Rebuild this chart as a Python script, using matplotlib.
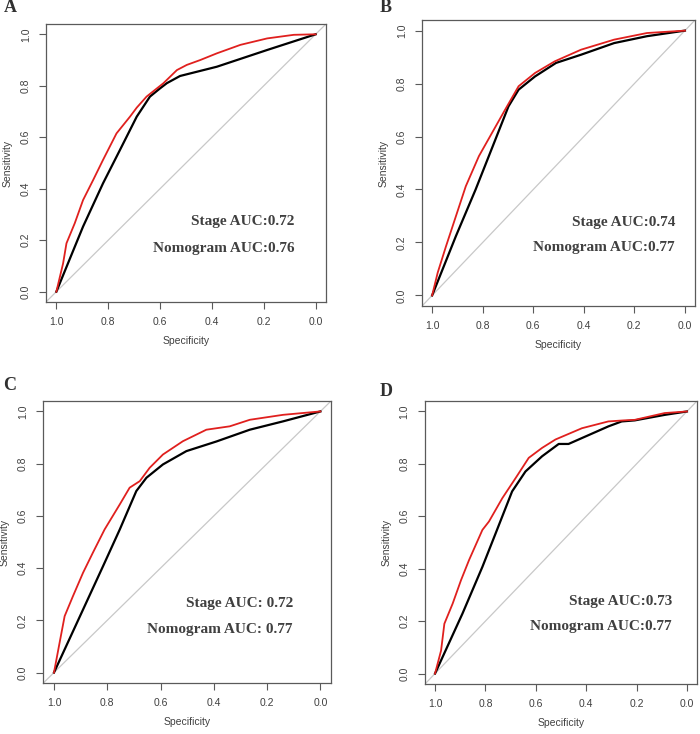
import matplotlib.pyplot as plt

# Panel A
a_nomo_spec = [1.0, 0.974, 0.961, 0.929, 0.897, 0.858, 0.820, 0.768, 0.716, 0.690, 0.652, 0.587, 0.535, 0.497,
               0.445, 0.381, 0.290, 0.187, 0.084, 0.0]
a_nomo_sens = [0.0, 0.110, 0.188, 0.266, 0.356, 0.434, 0.512, 0.615, 0.680, 0.715, 0.758, 0.810, 0.861, 0.881,
               0.900, 0.926, 0.959, 0.984, 0.998, 1.0]
a_stage_spec = [1.0, 0.897, 0.820, 0.755, 0.690, 0.639, 0.600, 0.574, 0.523, 0.381, 0.187, 0.0]
a_stage_sens = [0.0, 0.253, 0.421, 0.550, 0.680, 0.758, 0.790, 0.810, 0.838, 0.874, 0.939, 1.0]

# Panel B
b_nomo_spec = [1.0, 0.978, 0.945, 0.906, 0.867, 0.815, 0.763, 0.711, 0.658, 0.593, 0.515, 0.411, 0.280, 0.150, 0.0]
b_nomo_sens = [0.0, 0.086, 0.186, 0.299, 0.412, 0.526, 0.614, 0.702, 0.790, 0.840, 0.884, 0.928, 0.966, 0.991, 1.0]
b_stage_spec = [1.0, 0.906, 0.828, 0.760, 0.698, 0.658, 0.593, 0.510, 0.411, 0.280, 0.150, 0.0]
b_stage_sens = [0.0, 0.224, 0.400, 0.564, 0.714, 0.777, 0.827, 0.878, 0.909, 0.953, 0.979, 1.0]

# Panel C
c_nomo_spec = [1.0, 0.979, 0.960, 0.929, 0.891, 0.854, 0.810, 0.791, 0.753, 0.716, 0.678, 0.641, 0.591, 0.516,
               0.428, 0.340, 0.265, 0.140, 0.0]
c_nomo_sens = [0.0, 0.114, 0.216, 0.292, 0.382, 0.459, 0.548, 0.580, 0.644, 0.708, 0.733, 0.784, 0.835, 0.886,
               0.930, 0.943, 0.968, 0.987, 1.0]
c_stage_spec = [1.0, 0.891, 0.816, 0.753, 0.691, 0.653, 0.591, 0.503, 0.390, 0.265, 0.140, 0.0]
c_stage_sens = [0.0, 0.241, 0.407, 0.548, 0.695, 0.746, 0.797, 0.848, 0.885, 0.930, 0.962, 1.0]

# Panel D
d_nomo_spec = [1.0, 0.976, 0.963, 0.930, 0.897, 0.865, 0.812, 0.786, 0.733, 0.680, 0.628, 0.575, 0.522, 0.417,
               0.312, 0.250, 0.207, 0.088, 0.0]
d_nomo_sens = [0.0, 0.088, 0.190, 0.267, 0.356, 0.433, 0.548, 0.580, 0.669, 0.746, 0.823, 0.861, 0.893, 0.936,
               0.962, 0.966, 0.968, 0.994, 1.0]
d_stage_spec = [1.0, 0.891, 0.812, 0.759, 0.694, 0.641, 0.575, 0.509, 0.470, 0.312, 0.259, 0.207, 0.088, 0.0]
d_stage_sens = [0.0, 0.229, 0.407, 0.536, 0.695, 0.771, 0.829, 0.876, 0.876, 0.943, 0.962, 0.966, 0.987, 1.0]

panel_labels = ["A", "B", "C", "D"]
stage_text = ["Stage AUC:0.72", "Stage AUC:0.74", "Stage AUC: 0.72", "Stage AUC:0.73"]
nomo_text = ["Nomogram AUC:0.76", "Nomogram AUC:0.77", "Nomogram AUC: 0.77", "Nomogram AUC:0.77"]

panels = [
    (a_nomo_spec, a_nomo_sens, a_stage_spec, a_stage_sens),
    (b_nomo_spec, b_nomo_sens, b_stage_spec, b_stage_sens),
    (c_nomo_spec, c_nomo_sens, c_stage_spec, c_stage_sens),
    (d_nomo_spec, d_nomo_sens, d_stage_spec, d_stage_sens),
]

rects = [
    [0.0657, 0.5886, 0.400, 0.3787],
    [0.6029, 0.5831, 0.390, 0.3896],
    [0.0619, 0.0695, 0.411, 0.3842],
    [0.6071, 0.0681, 0.3886, 0.3856],
]
label_pos = [(10, 8), (386, 8), (10, 385), (386, 392)]
text_right = [0.081, 0.039, 0.103, 0.059]
text_y = [(0.272, 0.168), (0.277, 0.180), (0.263, 0.166), (0.275, 0.179)]

W, H = 700, 734
fig = plt.figure(figsize=(W / 100, H / 100), dpi=100)
serif = ["Liberation Serif", "DejaVu Serif"]
sans = ["Liberation Sans", "DejaVu Sans"]
axis_col = "#5a5a5a"
text_col = "#404040"

for i, (ns, nv, ss, sv) in enumerate(panels):
    ax = fig.add_axes(rects[i])
    ax.axline((0, 1), (1, 0), color="#c8c8c8", lw=0.9, zorder=1)
    ax.plot(ss, sv, color="black", lw=1.6, zorder=2)
    ax.plot(ns, nv, color="#e0201e", lw=1.3, zorder=3)
    ax.set_xlim(1.04, -0.04)
    ax.set_ylim(-0.04, 1.04)
    ticks = [0.0, 0.2, 0.4, 0.6, 0.8, 1.0]
    ax.set_xticks(ticks)
    ax.set_yticks(ticks)
    ax.set_xticklabels([f"{t:.1f}" for t in ticks], family=sans, fontsize=7.5, color=text_col)
    ax.set_yticklabels([f"{t:.1f}" for t in ticks], family=sans, fontsize=7.5, color=text_col,
                       rotation=90, va="center")
    ax.tick_params(length=5, width=0.8, color=axis_col, pad=6)
    for sp in ax.spines.values():
        sp.set_color(axis_col)
        sp.set_linewidth(0.9)
    ax.set_xlabel("Specificity", family=sans, fontsize=7.5, color=text_col, labelpad=6)
    ax.set_ylabel("Sensitivity", family=sans, fontsize=7.5, color=text_col, labelpad=6)
    ax.text(text_right[i], text_y[i][0], stage_text[i], ha="right", va="center",
            family=serif, fontweight="bold", fontsize=11, color=text_col)
    ax.text(text_right[i], text_y[i][1], nomo_text[i], ha="right", va="center",
            family=serif, fontweight="bold", fontsize=11, color=text_col)
    lx, ly = label_pos[i]
    fig.text(lx / W, 1 - ly / H, panel_labels[i], ha="center", va="center",
             family=serif, fontweight="bold", fontsize=13, color="#303030")

fig.savefig("out.png", dpi=100)
